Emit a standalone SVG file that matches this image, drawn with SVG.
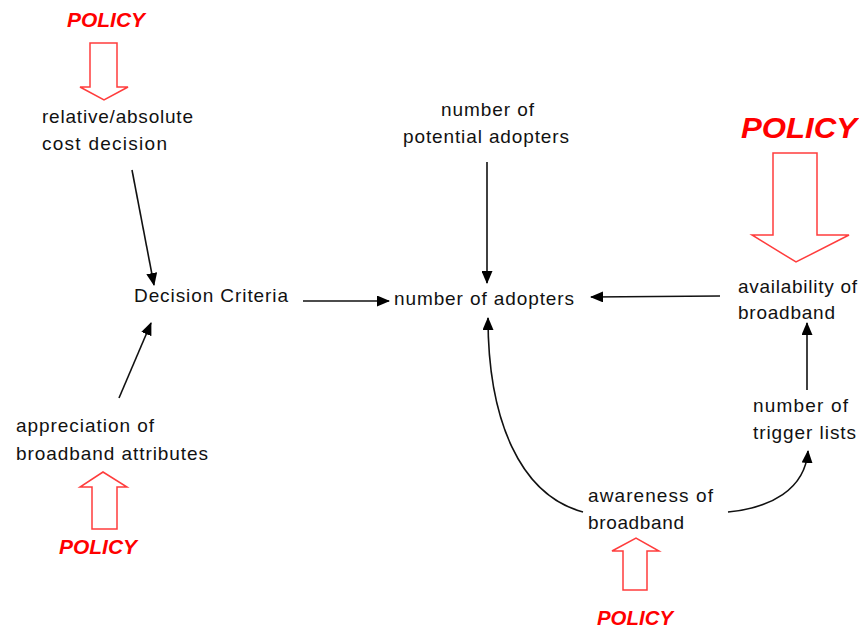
<svg xmlns="http://www.w3.org/2000/svg" width="859" height="629" viewBox="0 0 859 629">
<defs>
<style>
.t{font-family:"Liberation Sans",Arial,sans-serif;font-size:19px;fill:#111;}
.p{font-family:"Liberation Sans",Arial,sans-serif;font-weight:bold;font-style:italic;fill:#ff0000;}
.blk{fill:#fff;stroke:#ff3c3c;stroke-width:1.5;stroke-linejoin:miter;}
.c{fill:none;stroke:#111;stroke-width:1.6;marker-end:url(#ah);}
</style>
<marker id="ah" markerUnits="userSpaceOnUse" markerWidth="13" markerHeight="11" viewBox="0 0 13 11" refX="12" refY="5.5" orient="auto">
<path d="M0,0 L13,5.5 L0,11 z" fill="#000"/>
</marker>
</defs>
<rect width="859" height="629" fill="#fff"/>

<g id="policy-top-left">
<text class="p" x="67" y="27" font-size="20" textLength="78" lengthAdjust="spacingAndGlyphs">POLICY</text>
<path class="blk" d="M90,43 H117 V87 H128 L104,100 L80,87 H90 Z"/>
</g>

<g id="cost-decision">
<text class="t" x="42" y="123" textLength="151">relative/absolute</text>
<text class="t" x="42" y="150" textLength="125">cost decision</text>
</g>

<g id="potential-adopters">
<text class="t" x="441" y="116" textLength="93">number of</text>
<text class="t" x="403" y="143" textLength="166">potential adopters</text>
</g>

<g id="policy-top-right">
<text class="p" x="741" y="138" font-size="30" textLength="116" lengthAdjust="spacingAndGlyphs">POLICY</text>
<path class="blk" d="M773,153 H817 V235 H849 L796,262 L752,235 H773 Z"/>
</g>

<g id="availability">
<text class="t" x="738" y="293" textLength="119">availability of</text>
<text class="t" x="738" y="319" textLength="97">broadband</text>
</g>

<g id="decision-criteria">
<text class="t" x="134" y="302" textLength="154">Decision Criteria</text>
</g>

<g id="adopters">
<text class="t" x="394" y="305" textLength="180">number of adopters</text>
</g>

<g id="appreciation">
<text class="t" x="16" y="432" textLength="138">appreciation of</text>
<text class="t" x="16" y="460" textLength="192">broadband attributes</text>
</g>

<g id="policy-bottom-left">
<path class="blk" d="M92,529 V487 H80 L103,472 L127,487 H117 V529 Z"/>
<text class="p" x="59" y="554" font-size="20" textLength="78" lengthAdjust="spacingAndGlyphs">POLICY</text>
</g>

<g id="awareness">
<text class="t" x="588" y="502" textLength="125">awareness of</text>
<text class="t" x="588" y="529" textLength="96">broadband</text>
</g>

<g id="policy-bottom-right">
<path class="blk" d="M623,590 V551 H612 L636,538 L659,551 H647 V590 Z"/>
<text class="p" x="597" y="625" font-size="20" textLength="76" lengthAdjust="spacingAndGlyphs">POLICY</text>
</g>

<g id="trigger-lists">
<text class="t" x="753" y="412" textLength="95">number of</text>
<text class="t" x="753" y="439" textLength="103">trigger lists</text>
</g>

<g id="connectors">
<path class="c" d="M132,170 L154,285"/>
<path class="c" d="M119,398 L151,323"/>
<path class="c" d="M303,301 L389,301"/>
<path class="c" d="M487,162 L487,283"/>
<path class="c" d="M720,296 L591,297"/>
<path class="c" d="M583,512 C520,495 488,420 488,318"/>
<path class="c" d="M728,512 C770,508 805,490 808,451"/>
<path class="c" d="M807,390 L807,323"/>
</g>
</svg>
